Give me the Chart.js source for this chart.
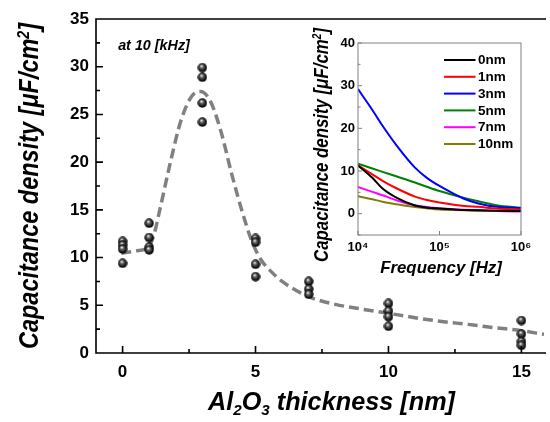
<!DOCTYPE html>
<html>
<head>
<meta charset="utf-8">
<script src="https://cdn.jsdelivr.net/npm/chart.js@4.4.1/dist/chart.umd.min.js"></script>
<style>
html, body { margin: 0; padding: 0; background: #fff; }
#wrap { position: relative; width: 550px; height: 422px; overflow: hidden; }
#main { position: absolute; left: 0; top: 0; }
#inset { position: absolute; left: 300px; top: 20px; }
</style>
</head>
<body>
<div id="wrap">
  <canvas id="main" width="550" height="422"></canvas>
  <canvas id="inset" width="250" height="262"></canvas>
</div>
<script>
// main plot: measured points at 10 kHz
const thickness = [0, 1, 3, 5, 7, 10, 15];
const capMeasured = [
  [11.7, 11.3, 10.9, 9.4],
  [13.6, 12.1, 11.1, 10.8],
  [29.9, 28.9, 26.2, 24.2],
  [12.0, 11.6, 9.3, 8.0],
  [7.5, 6.7, 6.15],
  [5.2, 4.4, 3.8, 2.8],
  [3.4, 2.0, 1.2, 0.8]
];
// dashed guide curve
const fitX = [-0.05, 0.5, 1, 1.2, 1.4, 1.8, 2.2, 2.6, 2.93, 3.3, 3.7, 4.1, 4.5, 4.85, 5.2, 5.6, 6, 7, 8, 9, 10, 11, 12, 13, 14, 15, 15.85];
const fitY = [10.45, 10.7, 11.2, 12.6, 15.0, 20.0, 24.4, 26.9, 27.4, 26.4, 23.2, 18.8, 14.8, 11.8, 9.8, 8.5, 7.5, 5.9, 5.1, 4.6, 4.16, 3.7, 3.3, 3.0, 2.65, 2.34, 1.95];
const xTicks = [0, 5, 10, 15];
const xMinor = [2.5, 7.5, 12.5];
const yTicks = [0, 5, 10, 15, 20, 25, 30, 35];
const yMinor = [2.5, 7.5, 12.5, 17.5, 22.5, 27.5, 32.5];

// inset: frequency sweep
const freqs = [1e4, 1.5e4, 2e4, 3e4, 5e4, 7e4, 1e5, 2e5, 3e5, 5e5, 1e6];
const seriesNames = ['0nm', '1nm', '3nm', '5nm', '7nm', '10nm'];
const cap0nm  = [11.3, 8.4, 5.9, 3.7, 1.9, 1.4, 1.2, 0.85, 0.8, 0.7, 0.6];
const cap1nm  = [11.3, 9.2, 7.7, 5.9, 4.0, 3.2, 2.6, 1.8, 1.6, 1.2, 1.0];
const cap3nm  = [29.2, 24.3, 20.6, 15.9, 10.8, 8.4, 6.5, 3.5, 2.4, 1.6, 1.3];
const cap5nm  = [11.7, 10.6, 9.8, 8.7, 7.3, 6.3, 5.3, 3.7, 2.9, 2.0, 1.4];
const cap7nm  = [6.25, 5.1, 4.3, 3.1, 1.95, 1.55, 1.25, 0.9, 0.8, 0.6, 0.5];
const cap10nm = [4.1, 3.4, 2.8, 2.2, 1.55, 1.25, 1.0, 0.8, 0.7, 0.6, 0.6];
const seriesColors = ['#000000', '#ff0000', '#0000ff', '#008000', '#ff00ff', '#808000'];
const insetYTicks = [0, 10, 20, 30, 40];
const insetYMinor = [-5, 5, 15, 25, 35];
const insetXTicks = [1e4, 1e5, 1e6];

const FONT = "'Liberation Sans', Arial, sans-serif";

// little shaded ball used as the point marker
function makeSphere(d) {
  const c = document.createElement('canvas');
  c.width = d; c.height = d;
  const g = c.getContext('2d');
  const r = d / 2;
  const grad = g.createRadialGradient(r * 0.8, r * 0.65, r * 0.05, r, r, r);
  grad.addColorStop(0, '#ffffff');
  grad.addColorStop(0.3, '#666666');
  grad.addColorStop(0.75, '#111111');
  grad.addColorStop(1, '#000000');
  g.fillStyle = grad;
  g.beginPath();
  g.arc(r, r, r - 0.3, 0, Math.PI * 2);
  g.fill();
  return c;
}

// text with sub/superscripts, squeezed to a given length
// parts: [text, 0 normal | 1 sub | -1 sup]
function richText(ctx, parts, cx, cy, size, len, rot) {
  ctx.save();
  const small = size * 0.6;
  let total = 0;
  const w = parts.map(([t, m]) => {
    ctx.font = 'italic bold ' + (m ? small : size) + 'px ' + FONT;
    const v = ctx.measureText(t).width;
    total += v;
    return v;
  });
  const sx = len ? len / total : 1;
  ctx.translate(cx, cy);
  ctx.rotate(rot || 0);
  ctx.scale(sx, 1);
  ctx.fillStyle = '#000';
  ctx.textBaseline = 'alphabetic';
  ctx.textAlign = 'left';
  let x = -total / 2;
  const base = size * 0.36;
  parts.forEach(([t, m], i) => {
    ctx.font = 'italic bold ' + (m ? small : size) + 'px ' + FONT;
    const dy = m === 1 ? size * 0.2 : (m === -1 ? -size * 0.32 : 0);
    ctx.fillText(t, x, base + dy);
    x += w[i];
  });
  ctx.restore();
}

const sphere = makeSphere(10);

const scatterPts = [];
thickness.forEach((t, i) => capMeasured[i].forEach(v => scatterPts.push({ x: t, y: v })));
const fitPts = fitX.map((x, i) => ({ x: x, y: fitY[i] }));

const mainDecor = {
  id: 'mainDecor',
  afterDatasetsDraw(chart) {
    const { ctx, chartArea: a, scales: { x, y } } = chart;
    ctx.save();
    ctx.strokeStyle = '#000';
    ctx.lineWidth = 1.6;
    ctx.beginPath();
    ctx.moveTo(a.right + 2, a.top);
    ctx.lineTo(a.left, a.top);
    ctx.lineTo(a.left, a.bottom);
    ctx.lineTo(a.right + 2, a.bottom);
    xTicks.forEach(v => { const p = x.getPixelForValue(v); ctx.moveTo(p, a.bottom); ctx.lineTo(p, a.bottom - 7); });
    xMinor.forEach(v => { const p = x.getPixelForValue(v); ctx.moveTo(p, a.bottom); ctx.lineTo(p, a.bottom - 4); });
    yTicks.forEach(v => { const p = y.getPixelForValue(v); ctx.moveTo(a.left, p); ctx.lineTo(a.left + 7, p); });
    yMinor.forEach(v => { const p = y.getPixelForValue(v); ctx.moveTo(a.left, p); ctx.lineTo(a.left + 4, p); });
    ctx.stroke();
    ctx.restore();

    richText(ctx, [['Capacitance density [\u03bcF/cm', 0], ['2', -1], [']', 0]], 28, 186, 28, 326, -Math.PI / 2);
    richText(ctx, [['Al', 0], ['2', 1], ['O', 0], ['3', 1], [' thickness [nm]', 0]], 331.5, 400.5, 25, 247, 0);
    richText(ctx, [['at 10 [kHz]', 0]], 154, 45, 15, 71.7, 0);
  }
};

new Chart(document.getElementById('main'), {
  type: 'scatter',
  data: {
    datasets: [
      {
        data: fitPts,
        showLine: true,
        borderColor: '#808080',
        borderWidth: 3.5,
        borderDash: [10, 5],
        pointRadius: 0,
        cubicInterpolationMode: 'monotone',
        order: 2
      },
      {
        data: scatterPts,
        pointStyle: sphere,
        pointRadius: 5,
        order: 1
      }
    ]
  },
  options: {
    responsive: false,
    animation: false,
    layout: { padding: { top: 19, right: 0, left: 0, bottom: 0 } },
    plugins: { legend: { display: false }, tooltip: { enabled: false } },
    scales: {
      x: {
        type: 'linear', min: -1, max: 15.85,
        grid: { display: false, drawTicks: false },
        border: { display: false },
        afterBuildTicks: s => { s.ticks = xTicks.map(v => ({ value: v })); },
        afterFit: s => { s.height = 69; },
        ticks: { padding: 9, color: '#000', font: { family: FONT, size: 17, weight: 'bold' } }
      },
      y: {
        min: 0, max: 35,
        grid: { display: false, drawTicks: false },
        border: { display: false },
        afterBuildTicks: s => { s.ticks = yTicks.map(v => ({ value: v })); },
        afterFit: s => { s.width = 96; },
        ticks: { padding: 7, color: '#000', font: { family: FONT, size: 17, weight: 'bold' } }
      }
    }
  },
  plugins: [mainDecor]
});

// inset
const supDigits = { 4: '\u2074', 5: '\u2075', 6: '\u2076' };
const insetSeries = [cap0nm, cap1nm, cap3nm, cap5nm, cap7nm, cap10nm];

const insetDecor = {
  id: 'insetDecor',
  afterDatasetsDraw(chart) {
    const { ctx, chartArea: a, scales: { x, y } } = chart;
    ctx.save();
    ctx.strokeStyle = '#808080';
    ctx.lineWidth = 1;
    ctx.strokeRect(a.left, a.top, a.right - a.left, a.bottom - a.top);
    ctx.beginPath();
    insetXTicks.forEach(v => { const p = x.getPixelForValue(v); ctx.moveTo(p, a.bottom); ctx.lineTo(p, a.bottom - 4); });
    insetYTicks.forEach(v => { const p = y.getPixelForValue(v); ctx.moveTo(a.left, p); ctx.lineTo(a.left + 4, p); });
    insetYMinor.forEach(v => { const p = y.getPixelForValue(v); ctx.moveTo(a.left, p); ctx.lineTo(a.left + 2.5, p); });
    ctx.stroke();

    // legend
    ctx.font = 'bold 13.5px ' + FONT;
    ctx.textBaseline = 'middle';
    ctx.textAlign = 'left';
    chart.data.datasets.forEach((ds, i) => {
      const ly = 40 + i * 16.8;
      ctx.strokeStyle = ds.borderColor;
      ctx.lineWidth = 2;
      ctx.beginPath();
      ctx.moveTo(144, ly);
      ctx.lineTo(175.5, ly);
      ctx.stroke();
      ctx.fillStyle = '#000';
      ctx.fillText(ds.label, 178, ly + 0.5);
    });
    ctx.restore();

    richText(ctx, [['Capacitance density [\u03bcF/cm', 0], ['2', -1], [']', 0]], 20.5, 125, 21, 234, -Math.PI / 2);
    richText(ctx, [['Frequency [Hz]', 0]], 141, 247, 17, 121.7, 0);
  }
};

new Chart(document.getElementById('inset'), {
  type: 'line',
  data: {
    datasets: seriesNames.map((name, i) => ({
      label: name,
      data: freqs.map((f, j) => ({ x: f, y: insetSeries[i][j] })),
      borderColor: seriesColors[i],
      borderWidth: 2,
      pointRadius: 0,
      cubicInterpolationMode: 'monotone'
    }))
  },
  options: {
    responsive: false,
    animation: false,
    layout: { padding: { top: 23, right: 29, left: 0, bottom: 0 } },
    plugins: { legend: { display: false }, tooltip: { enabled: false } },
    scales: {
      x: {
        type: 'logarithmic', min: 1e4, max: 1e6,
        grid: { display: false, drawTicks: false },
        border: { display: false },
        afterBuildTicks: s => { s.ticks = insetXTicks.map(v => ({ value: v })); },
        afterFit: s => { s.height = 47; },
        ticks: {
          padding: 5, color: '#000', autoSkip: false, maxRotation: 0,
          font: { family: FONT, size: 13, weight: 'bold' },
          callback: v => '10' + supDigits[Math.round(Math.log10(v))]
        }
      },
      y: {
        min: -5, max: 40,
        grid: { display: false, drawTicks: false },
        border: { display: false },
        afterBuildTicks: s => { s.ticks = insetYTicks.map(v => ({ value: v })); },
        afterFit: s => { s.width = 58; },
        ticks: { padding: 3, color: '#000', font: { family: FONT, size: 13, weight: 'bold' } }
      }
    }
  },
  plugins: [insetDecor]
});
</script>
</body>
</html>
